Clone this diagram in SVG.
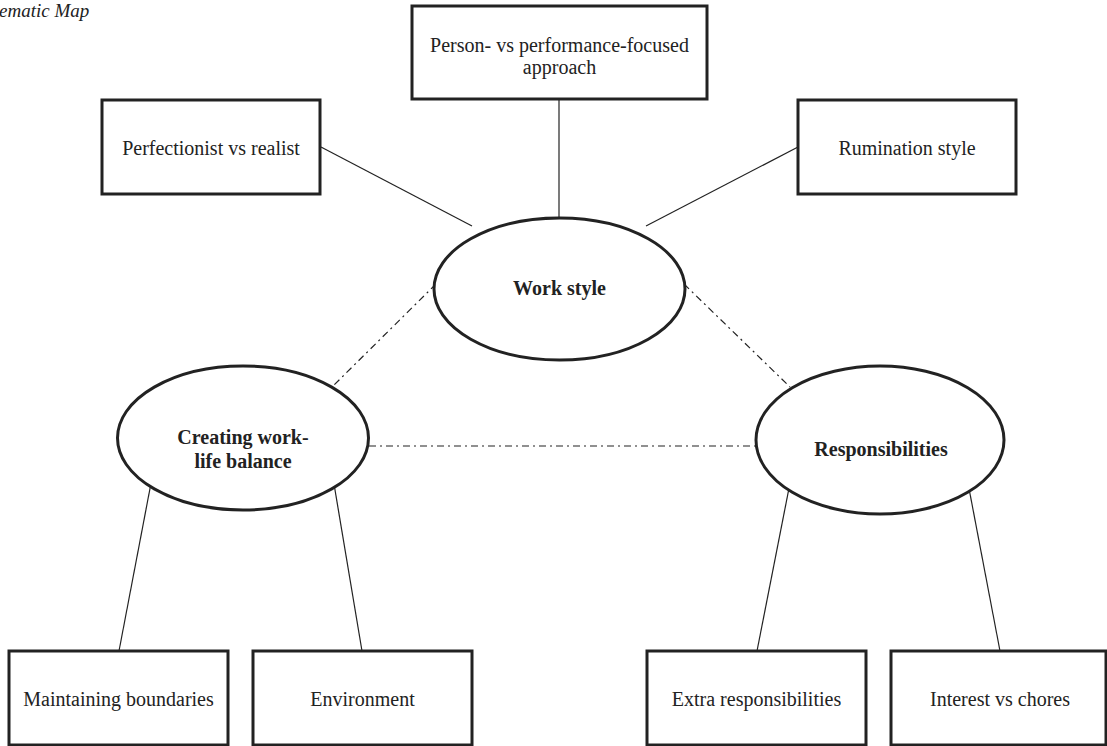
<svg xmlns="http://www.w3.org/2000/svg" width="1107" height="746" viewBox="0 0 1107 746">
<style>
.box{fill:#fff;stroke:#222;stroke-width:3}
.ell{fill:#fff;stroke:#222;stroke-width:3}
.t{font-family:"Liberation Serif","Times New Roman",serif;font-size:20px;fill:#222;text-anchor:middle}
.b{font-weight:bold}
.ln{stroke:#222;stroke-width:1.2;fill:none}
.dd{stroke:#222;stroke-width:1.2;fill:none;stroke-dasharray:7 4 2 4}
</style>
<rect width="1107" height="746" fill="#fff"/>
<text x="-1" y="17" style="font-family:'Liberation Serif','Times New Roman',serif;font-style:italic;font-size:19px;fill:#222">ematic Map</text>
<g id="connectors">
<line class="ln" x1="321" y1="147" x2="472" y2="226"/>
<line class="ln" x1="559" y1="100" x2="559" y2="218"/>
<line class="ln" x1="798" y1="147" x2="646" y2="226"/>
<line class="dd" x1="436" y1="284" x2="331" y2="388"/>
<line class="dd" x1="684" y1="284" x2="790" y2="387"/>
<line class="dd" x1="369" y1="446" x2="756" y2="446"/>
<line class="ln" x1="152" y1="478" x2="119" y2="651"/>
<line class="ln" x1="333" y1="478" x2="362" y2="651"/>
<line class="ln" x1="791" y1="478" x2="757" y2="651"/>
<line class="ln" x1="967" y1="478" x2="1000" y2="651"/>
</g>
<g id="n-person">
<rect class="box" x="412" y="6" width="295" height="93"/>
<text class="t" x="559.5" y="52">Person- vs performance-focused</text>
<text class="t" x="559.5" y="74">approach</text>
</g>
<g id="n-perfectionist">
<rect class="box" x="102" y="100" width="218" height="94"/>
<text class="t" x="211" y="155">Perfectionist vs realist</text>
</g>
<g id="n-rumination">
<rect class="box" x="798" y="100" width="218" height="94"/>
<text class="t" x="907" y="155">Rumination style</text>
</g>
<g id="n-workstyle">
<ellipse class="ell" cx="559.5" cy="289" rx="125.5" ry="71"/>
<text class="t b" x="559.5" y="295">Work style</text>
</g>
<g id="n-creating">
<ellipse class="ell" cx="243" cy="438" rx="125.5" ry="72"/>
<text class="t b" x="243" y="444">Creating work-</text>
<text class="t b" x="243" y="468">life balance</text>
</g>
<g id="n-responsibilities">
<ellipse class="ell" cx="880" cy="440" rx="124" ry="74"/>
<text class="t b" x="881" y="456">Responsibilities</text>
</g>
<g id="n-maintaining">
<rect class="box" x="9" y="651" width="219" height="94"/>
<text class="t" x="118.5" y="706">Maintaining boundaries</text>
</g>
<g id="n-environment">
<rect class="box" x="253" y="651" width="219" height="94"/>
<text class="t" x="362.5" y="706">Environment</text>
</g>
<g id="n-extra">
<rect class="box" x="647" y="651" width="219" height="94"/>
<text class="t" x="756.5" y="706">Extra responsibilities</text>
</g>
<g id="n-interest">
<rect class="box" x="891" y="651" width="215" height="94"/>
<text class="t" x="1000" y="706">Interest vs chores</text>
</g>
</svg>
